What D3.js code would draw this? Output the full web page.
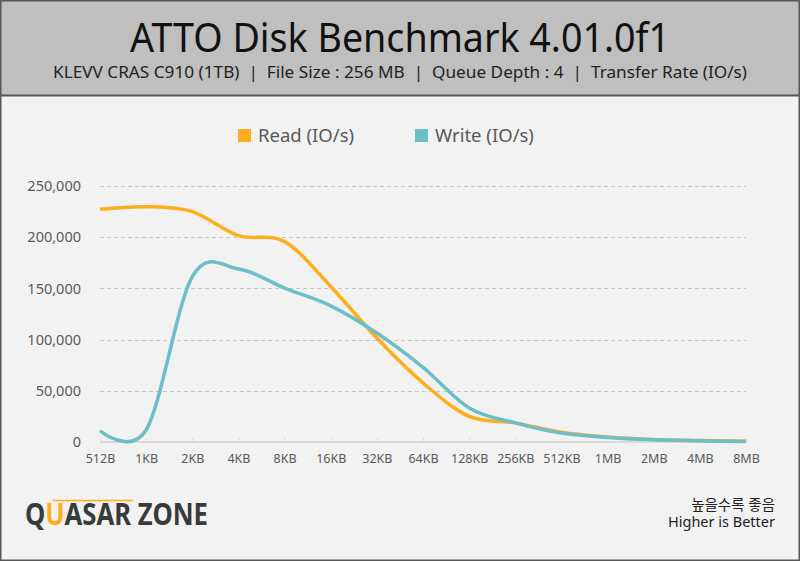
<!DOCTYPE html>
<meta charset="utf-8">
<style>
  body { margin: 0; background: #f2f2f2; }
  text { font-family: "Noto Sans", "Noto Sans CJK KR", sans-serif; }
</style>
<body>
<script src="https://d3js.org/d3.v7.min.js"></script>
<script>

// chart data
var sizes = ["512B", "1KB", "2KB", "4KB", "8KB", "16KB", "32KB", "64KB", "128KB", "256KB", "512KB", "1MB", "2MB", "4MB", "8MB"];
var readIOPS = [227300, 229800, 225000, 201600, 195700, 151900, 101500, 57700, 25100, 18700, 9500, 4900, 2500, 1500, 700];
var writeIOPS = [11000, 11700, 161500, 169000, 150300, 133000, 106400, 72900, 33300, 18700, 8700, 4400, 2200, 1100, 550];
var yTicks = [0, 50000, 100000, 150000, 200000, 250000];
var seriesNames = ["Read (IO/s)", "Write (IO/s)"];
var seriesColors = ["#ffad1e", "#6cbfc6"];

var W = 800, H = 561;
var svg = d3.select("body").append("svg")
  .attr("width", W)
  .attr("height", H);

// backgrounds
svg.append("rect").attr("x", 0).attr("y", 0).attr("width", W).attr("height", H).attr("fill", "#f2f2f2");
svg.append("rect").attr("x", 0).attr("y", 0).attr("width", W).attr("height", 95).attr("fill", "#bfbfbf");
svg.append("line").attr("x1", 0).attr("x2", W).attr("y1", 95.5).attr("y2", 95.5)
  .attr("stroke", "#555").attr("stroke-width", 2);
svg.append("rect").attr("x", 0.75).attr("y", 0.75).attr("width", W - 1.5).attr("height", H - 1.5)
  .attr("fill", "none").attr("stroke", "#595959").attr("stroke-width", 1.5);

// titles
svg.append("text").attr("x", 400).attr("y", 52).attr("text-anchor", "middle")
  .attr("font-size", 40).attr("fill", "#111")
  .attr("textLength", 540).attr("lengthAdjust", "spacingAndGlyphs")
  .text("ATTO Disk Benchmark 4.01.0f1");
svg.append("text").attr("x", 400).attr("y", 78).attr("text-anchor", "middle")
  .attr("font-size", 17).attr("fill", "#222")
  .attr("textLength", 694).attr("lengthAdjust", "spacingAndGlyphs")
  .text("KLEVV CRAS C910 (1TB)\u00a0\u00a0|\u00a0\u00a0File Size : 256 MB\u00a0\u00a0|\u00a0\u00a0Queue Depth : 4\u00a0\u00a0|\u00a0\u00a0Transfer Rate (IO/s)");

// scales
var x = d3.scalePoint().domain(sizes).range([100, 746]);
var y = d3.scaleLinear().domain([0, 250000]).range([442, 186]);

// gridlines
svg.append("g").selectAll("line")
  .data(yTicks.filter(function(d) { return d > 0; }))
  .enter().append("line")
  .attr("x1", 100).attr("x2", 746)
  .attr("y1", function(d) { return Math.round(y(d)) + 0.5; })
  .attr("y2", function(d) { return Math.round(y(d)) + 0.5; })
  .attr("stroke", "#c6c6c6").attr("stroke-dasharray", "4,3");

// y axis labels
var yAxis = svg.append("g")
  .attr("transform", "translate(81,0)")
  .call(d3.axisLeft(y).tickValues(yTicks).tickSize(0).tickPadding(0)
    .tickFormat(d3.format(",")));
yAxis.select(".domain").remove();
yAxis.selectAll("text").attr("font-size", 14.5).attr("fill", "#595959")
  .attr("font-family", "Noto Sans");

// x axis
var xAxis = svg.append("g")
  .attr("transform", "translate(0,442)")
  .call(d3.axisBottom(x).tickSize(-4).tickPadding(12));
xAxis.select(".domain").attr("stroke", "#d9d9d9").attr("stroke-width", 2)
  .attr("d", "M100,0H746");
xAxis.selectAll(".tick line").attr("stroke", "#d9d9d9");
xAxis.selectAll("text").attr("font-size", 12.5).attr("fill", "#595959")
  .attr("font-family", "Noto Sans");

// smoothed lines
var line = d3.line()
  .x(function(d, i) { return x(sizes[i]); })
  .y(function(d) { return y(d); })
  .curve(d3.curveCardinal.tension(0));

[readIOPS, writeIOPS].forEach(function(vals, k) {
  svg.append("path")
    .datum(vals)
    .attr("fill", "none")
    .attr("stroke", seriesColors[k])
    .attr("stroke-width", 3.5)
    .attr("stroke-linejoin", "round")
    .attr("d", line);
});

// legend
var legendX = [238, 415];
seriesNames.forEach(function(name, k) {
  svg.append("rect").attr("x", legendX[k]).attr("y", 129).attr("width", 13).attr("height", 13)
    .attr("fill", seriesColors[k]);
  svg.append("text").attr("x", legendX[k] + 20).attr("y", 142)
    .attr("font-size", 18.5).attr("fill", "#595959")
    .text(name);
});

// logo
svg.append("text").attr("x", 25).attr("y", 525)
  .attr("font-size", 31).attr("font-weight", "bold").attr("fill", "#3a3a3a")
  .attr("font-family", "DejaVu Sans")
  .attr("textLength", 183).attr("lengthAdjust", "spacingAndGlyphs")
  .html('Q<tspan fill="#ffad1e">U</tspan>ASAR ZONE');
svg.append("line").attr("x1", 53).attr("x2", 133).attr("y1", 500.5).attr("y2", 500.5)
  .attr("stroke", "#ffad1e").attr("stroke-width", 1.5);

// note
svg.append("text").attr("x", 775).attr("y", 510).attr("text-anchor", "end")
  .attr("font-size", 14.5).attr("fill", "#222")
  .attr("font-family", "Noto Sans CJK KR")
  .text("높을수록 좋음");
svg.append("text").attr("x", 775).attr("y", 527).attr("text-anchor", "end")
  .attr("font-size", 14.5).attr("fill", "#222")
  .text("Higher is Better");

</script>
</body>
